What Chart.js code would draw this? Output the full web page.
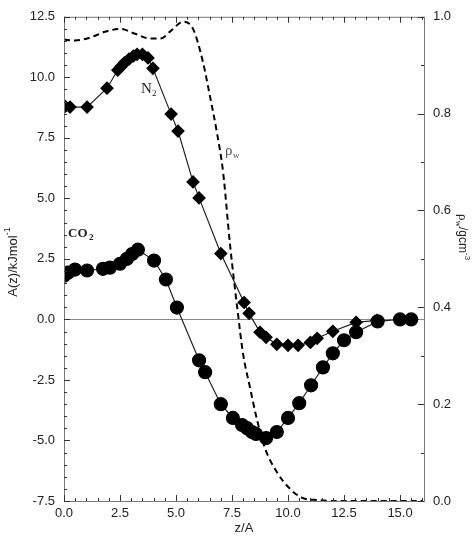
<!DOCTYPE html>
<html>
<head>
<meta charset="utf-8">
<script src="https://cdn.jsdelivr.net/npm/chart.js@4.4.1/dist/chart.umd.min.js"></script>
<style>
  html, body { margin: 0; padding: 0; background: #fff; }
  #wrap { width: 476px; height: 538px; }
</style>
</head>
<body>
<div id="wrap"><canvas id="c" width="476" height="538"></canvas></div>
<script>
// N2 free energy profile (diamonds)
const n2Z = [0.05, 0.27, 1.03, 1.92, 2.4, 2.55, 2.7, 2.9, 3.1, 3.26, 3.5, 3.75, 3.97, 4.78, 5.09, 5.76, 6.03, 7.0, 8.04, 8.26, 8.75, 9.02, 9.5, 10.0, 10.45, 11.0, 11.3, 12.0, 13.04, 13.97];
const n2A = [8.8, 8.77, 8.77, 9.55, 10.3, 10.45, 10.6, 10.75, 10.88, 10.95, 10.95, 10.8, 10.37, 8.48, 7.78, 5.68, 5.02, 2.72, 0.7, 0.25, -0.53, -0.74, -1.03, -1.07, -1.07, -0.95, -0.78, -0.49, -0.12, -0.04];

// CO2 free energy profile (circles)
const co2Z = [0.0, 0.18, 0.49, 1.03, 1.74, 2.05, 2.5, 2.8, 3.04, 3.3, 4.02, 4.55, 5.04, 6.03, 6.3, 7.0, 7.54, 7.95, 8.17, 8.39, 8.57, 9.02, 9.5, 10.0, 10.5, 11.03, 11.56, 12.0, 12.5, 13.04, 14.0, 15.0, 15.5];
const co2A = [1.81, 1.93, 2.06, 2.02, 2.09, 2.14, 2.3, 2.5, 2.7, 2.88, 2.43, 1.65, 0.49, -1.69, -2.18, -3.5, -4.07, -4.36, -4.49, -4.65, -4.73, -4.9, -4.65, -4.07, -3.46, -2.72, -1.98, -1.4, -0.86, -0.53, -0.08, 0.0, 0.0];

// water density (dashed, right axis)
const rhoZ = [0.0, 0.49, 1.16, 1.83, 2.5, 3.17, 3.84, 4.29, 4.82, 5.31, 5.76, 6.2, 6.52, 6.83, 7.1, 7.41, 7.77, 7.99, 8.3, 8.62, 8.97, 9.5, 10.09, 10.67, 11.3, 12.0, 13.0, 14.0, 15.0, 16.0];
const rhoW = [0.953, 0.951, 0.957, 0.969, 0.975, 0.965, 0.955, 0.955, 0.973, 0.99, 0.975, 0.907, 0.835, 0.76, 0.68, 0.53, 0.385, 0.305, 0.235, 0.167, 0.109, 0.06, 0.025, 0.006, 0.002, 0.0, 0.0, 0.0, 0.0, 0.0];

const xTicks = [0, 2.5, 5, 7.5, 10, 12.5, 15];
const yTicks = [-7.5, -5, -2.5, 0, 2.5, 5, 7.5, 10, 12.5];
const y2Ticks = [0, 0.2, 0.4, 0.6, 0.8, 1.0];

const pts = (xs, ys) => xs.map((x, i) => ({ x, y: ys[i] }));
const FONT = '"Liberation Sans", Arial, sans-serif';

// ticks pointing inwards, frame, titles and in-plot labels
const decor = {
  id: 'decor',
  afterDraw(chart) {
    const { ctx, chartArea: a, scales } = chart;
    const x = scales.x, y = scales.y, y2 = scales.y2;
    ctx.save();
    ctx.strokeStyle = '#777';
    ctx.lineWidth = 1;
    ctx.strokeRect(a.left + 0.5, a.top + 0.5, a.right - a.left, a.bottom - a.top);
    ctx.strokeStyle = '#333';
    ctx.beginPath();
    for (let v = 0; v <= 16.001; v += 0.5) {
      const px = Math.round(x.getPixelForValue(v)) + 0.5;
      const len = Math.abs(v % 2.5) < 0.01 ? 6 : 3;
      ctx.moveTo(px, a.bottom); ctx.lineTo(px, a.bottom - len);
      ctx.moveTo(px, a.top); ctx.lineTo(px, a.top + len);
    }
    for (let v = -7.5; v <= 12.501; v += 0.5) {
      const py = Math.round(y.getPixelForValue(v)) + 0.5;
      const len = Math.abs((v + 7.5) % 2.5) < 0.01 ? 6 : 3;
      ctx.moveTo(a.left, py); ctx.lineTo(a.left + len, py);
    }
    for (let v = 0; v <= 1.0001; v += 0.1) {
      const py = Math.round(y2.getPixelForValue(v)) + 0.5;
      const len = Math.round(v * 10) % 2 === 0 ? 6 : 3;
      ctx.moveTo(a.right, py); ctx.lineTo(a.right - len, py);
    }
    ctx.stroke();

    ctx.fillStyle = '#222';
    ctx.font = '13px ' + FONT;
    ctx.textAlign = 'center';
    ctx.textBaseline = 'middle';
    ctx.fillText('z/A', 244, 528);

    // left title
    ctx.save();
    ctx.translate(13, 262);
    ctx.rotate(-Math.PI / 2);
    ctx.textAlign = 'center';
    ctx.fillText('A(z)/kJmol', -4, 0);
    const wl = ctx.measureText('A(z)/kJmol').width;
    ctx.font = '9px ' + FONT;
    ctx.textAlign = 'left';
    ctx.fillText('-1', -4 + wl / 2, -5);
    ctx.restore();

    // right title
    ctx.save();
    ctx.translate(462, 241);
    ctx.rotate(Math.PI / 2);
    ctx.textAlign = 'left';
    ctx.font = '13px "Liberation Serif", serif';
    ctx.fillText('ρ', -27, 0);
    let off = -27 + ctx.measureText('ρ').width;
    ctx.font = '9px "Liberation Serif", serif';
    ctx.fillText('w', off, 4);
    off += ctx.measureText('w').width;
    ctx.font = '12px ' + FONT;
    ctx.fillText('/gcm', off, 0);
    off += ctx.measureText('/gcm').width;
    ctx.font = '8px ' + FONT;
    ctx.fillText('-3', off, -5);
    ctx.restore();

    // in-plot labels
    ctx.textAlign = 'left';
    ctx.font = '15px "Liberation Serif", serif';
    ctx.fillText('N', 141, 89);
    ctx.font = '9px "Liberation Serif", serif';
    ctx.fillText('2', 152, 94);
    ctx.font = 'bold 13px "Liberation Serif", serif';
    ctx.fillText('CO', 68, 234);
    ctx.font = 'bold 9px "Liberation Serif", serif';
    ctx.fillText('2', 89, 238);
    ctx.fillStyle = '#555';
    ctx.font = '15px "Liberation Serif", serif';
    ctx.fillText('ρ', 225, 151);
    ctx.font = '9px "Liberation Serif", serif';
    ctx.fillText('w', 233, 156);
    ctx.restore();
  }
};

new Chart(document.getElementById('c'), {
  type: 'line',
  data: {
    datasets: [
      {
        label: 'rho', data: pts(rhoZ, rhoW), yAxisID: 'y2',
        borderColor: '#000', borderWidth: 2, borderDash: [6, 4],
        pointRadius: 0, cubicInterpolationMode: 'monotone', fill: false
      },
      {
        label: 'N2', data: pts(n2Z, n2A), yAxisID: 'y',
        borderColor: '#222', borderWidth: 1.2, pointStyle: 'rectRot', pointRadius: 6,
        pointBackgroundColor: '#000', pointBorderColor: '#000', tension: 0, fill: false
      },
      {
        label: 'CO2', data: pts(co2Z, co2A), yAxisID: 'y',
        borderColor: '#222', borderWidth: 1.2, pointStyle: 'circle', pointRadius: 6.5,
        pointBackgroundColor: '#000', pointBorderColor: '#000', tension: 0, fill: false
      }
    ]
  },
  options: {
    responsive: false,
    animation: false,
    layout: { padding: { top: 15, left: 0, right: 0, bottom: 0 } },
    plugins: { legend: { display: false }, tooltip: { enabled: false } },
    scales: {
      x: {
        type: 'linear', min: 0, max: 16.07,
        afterFit(s) { s.height = 37; },
        afterBuildTicks(s) { s.ticks = xTicks.map(v => ({ value: v })); },
        grid: { display: false, drawTicks: false },
        border: { display: false },
        ticks: { color: '#222', font: { family: FONT, size: 13 }, padding: 5, maxRotation: 0,
          callback: v => v.toFixed(1) }
      },
      y: {
        type: 'linear', position: 'left', min: -7.5, max: 12.5,
        afterFit(s) { s.width = 64; },
        afterBuildTicks(s) { s.ticks = yTicks.map(v => ({ value: v })); },
        grid: { drawTicks: false, color: c => c.tick && c.tick.value === 0 ? '#888' : 'rgba(0,0,0,0)', lineWidth: 1 },
        border: { display: false },
        ticks: { color: '#222', font: { family: FONT, size: 13 }, padding: 9,
          callback: v => v.toFixed(1) }
      },
      y2: {
        type: 'linear', position: 'right', min: 0, max: 1,
        afterFit(s) { s.width = 52; },
        afterBuildTicks(s) { s.ticks = y2Ticks.map(v => ({ value: v })); },
        grid: { display: false, drawTicks: false },
        border: { display: false },
        ticks: { color: '#222', font: { family: FONT, size: 13 }, padding: 9,
          callback: v => v.toFixed(1) }
      }
    }
  },
  plugins: [decor]
});
</script>
</body>
</html>
